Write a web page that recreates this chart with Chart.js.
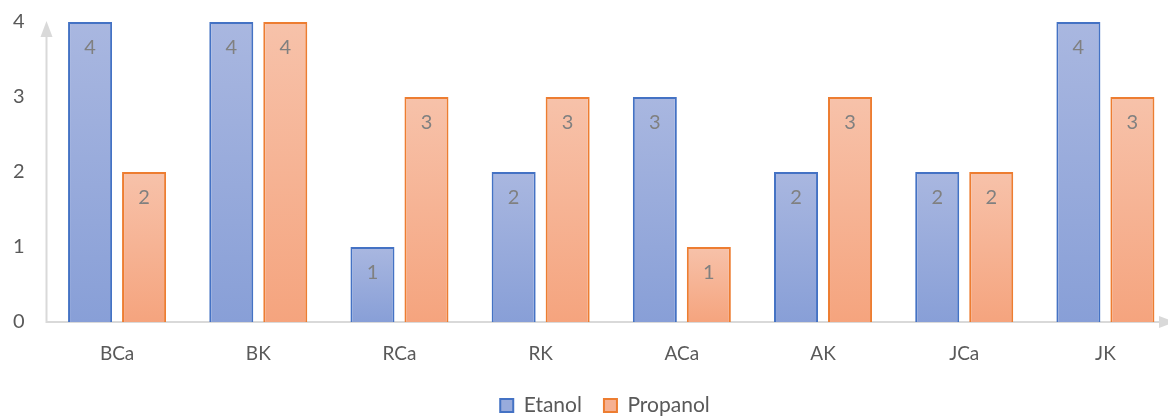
<!DOCTYPE html>
<html>
<head>
<meta charset="utf-8">
<script src="https://cdn.jsdelivr.net/npm/chart.js@4/dist/chart.umd.min.js"></script>
<style>
  html, body { margin: 0; padding: 0; background: #ffffff; overflow: hidden; }
  #wrap { position: relative; width: 1190px; height: 428px; }
</style>
</head>
<body>
<div id="wrap"><canvas id="chart"></canvas></div>
<script>
// Categories and series
const categories = ['BCa', 'BK', 'RCa', 'RK', 'ACa', 'AK', 'JCa', 'JK'];
const etanol = [4, 4, 1, 2, 3, 2, 2, 4];
const propanol = [2, 4, 3, 3, 1, 3, 2, 3];
const yTicks = [0, 1, 2, 3, 4];

const FONT = 'Lato, "Liberation Sans", sans-serif';
const AXIS_GREY = '#d9d9d9';

// Vertical gradient per bar, from its top down to the baseline
function barGradient(topColor, bottomColor) {
  return function (ctx) {
    const chart = ctx.chart;
    const y = chart.scales && chart.scales.y;
    if (!chart.chartArea || !y || ctx.raw === undefined) return bottomColor;
    const top = y.getPixelForValue(ctx.raw);
    const base = y.getPixelForValue(0);
    if (!isFinite(top) || !isFinite(base) || top === base) return bottomColor;
    const g = chart.ctx.createLinearGradient(0, top, 0, base);
    g.addColorStop(0, topColor);
    g.addColorStop(1, bottomColor);
    return g;
  };
}

// Axis lines with arrowheads
const axisArrows = {
  id: 'axisArrows',
  beforeDatasetsDraw(chart) {
    const { ctx, chartArea: a } = chart;
    const x0 = chart.scales.x.left;
    const yBase = chart.scales.y.getPixelForValue(0);
    ctx.save();
    ctx.strokeStyle = AXIS_GREY;
    ctx.fillStyle = AXIS_GREY;
    ctx.lineWidth = 2;
    // y axis
    ctx.beginPath();
    ctx.moveTo(x0, yBase + 1);
    ctx.lineTo(x0, a.top + 14);
    ctx.stroke();
    ctx.beginPath();
    ctx.moveTo(x0, a.top - 1);
    ctx.lineTo(x0 - 6, a.top + 15);
    ctx.lineTo(x0 + 6, a.top + 15);
    ctx.closePath();
    ctx.fill();
    // x axis
    ctx.beginPath();
    ctx.moveTo(x0, yBase);
    ctx.lineTo(a.right - 16, yBase);
    ctx.stroke();
    ctx.beginPath();
    ctx.moveTo(a.right - 1, yBase);
    ctx.lineTo(a.right - 17, yBase - 6);
    ctx.lineTo(a.right - 17, yBase + 6);
    ctx.closePath();
    ctx.fill();
    ctx.restore();
  }
};

// Value labels inside the top of each bar
const valueLabels = {
  id: 'valueLabels',
  afterDatasetsDraw(chart) {
    const { ctx } = chart;
    ctx.save();
    ctx.font = '20px ' + FONT;
    ctx.fillStyle = '#808080';
    ctx.textAlign = 'center';
    ctx.textBaseline = 'middle';
    chart.data.datasets.forEach((ds, i) => {
      chart.getDatasetMeta(i).data.forEach((bar, j) => {
        ctx.fillText(String(ds.data[j]), bar.x, bar.y + 26);
      });
    });
    ctx.restore();
  }
};

// Centre the legend under the visible page width rather than the padded box
const legendShift = {
  id: 'legendShift',
  afterLayout(chart) {
    const lg = chart.legend;
    if (lg) { lg.left += 17; lg.right += 17; }
  }
};

new Chart(document.getElementById('chart'), {
  type: 'bar',
  data: {
    labels: categories,
    datasets: [
      {
        label: 'Etanol',
        data: etanol,
        backgroundColor: barGradient('#a9b7e0', '#889fd7'),
        borderColor: '#4472c4',
        borderWidth: 2,
        borderSkipped: 'bottom',
        legendFill: '#98abdc'
      },
      {
        label: 'Propanol',
        data: propanol,
        backgroundColor: barGradient('#f7c2aa', '#f5a47e'),
        borderColor: '#ed7d31',
        borderWidth: 2,
        borderSkipped: 'bottom',
        legendFill: '#f6b192'
      }
    ]
  },
  options: {
    responsive: true,
    maintainAspectRatio: false,
    animation: false,
    events: [],
    layout: { padding: { left: 0, right: 14, top: 22, bottom: 2 } },
    datasets: { bar: { categoryPercentage: 0.765, barPercentage: 0.815, clip: false } },
    scales: {
      x: {
        grid: { display: false, drawTicks: false },
        border: { display: false },
        ticks: { color: '#595959', font: { family: FONT, size: 19 }, padding: 20 },
        afterFit(scale) { scale.height = 51; }
      },
      y: {
        min: 0,
        max: 4,
        grid: { display: false, drawTicks: false },
        border: { display: false },
        afterBuildTicks(scale) { scale.ticks = yTicks.map(v => ({ value: v })); },
        ticks: { color: '#595959', font: { family: FONT, size: 20 }, padding: 22, stepSize: 1 },
        afterFit(scale) {
          scale.width = 46.5;
          scale.paddingTop = 0;
          scale.paddingBottom = 0;
        }
      }
    },
    plugins: {
      tooltip: { enabled: false },
      legend: {
        position: 'bottom',
        labels: {
          color: '#595959',
          font: { family: FONT, size: 21 },
          boxWidth: 13,
          boxHeight: 13,
          padding: 22,
          generateLabels(chart) {
            return chart.data.datasets.map((ds, i) => ({
              text: ds.label,
              fillStyle: ds.legendFill,
              strokeStyle: ds.borderColor,
              lineWidth: 2,
              fontColor: '#595959',
              hidden: false,
              datasetIndex: i
            }));
          }
        }
      }
    }
  },
  plugins: [axisArrows, valueLabels, legendShift]
});
</script>
</body>
</html>
